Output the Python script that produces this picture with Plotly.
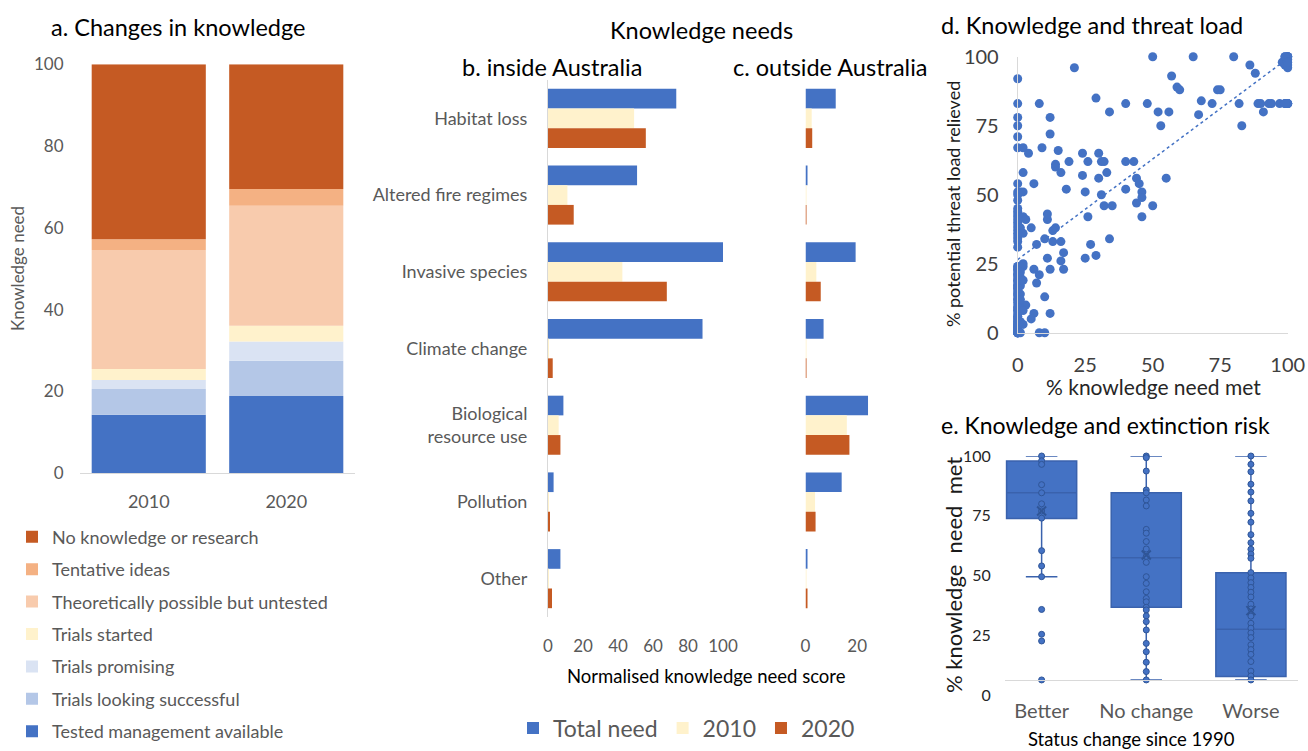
import numpy as np
import plotly.graph_objects as go

W, H = 1308, 751
def px(x): return x / W
def py(y): return 1 - y / H

FONT = "Lato"
GRAY = "#595959"
CLEAR = "rgba(0,0,0,0)"

# ---------------- Panel a: changes in knowledge ----------------
years = ["2010", "2020"]
stages = ["Tested management available", "Trials looking successful", "Trials promising",
          "Trials started", "Theoretically possible but untested", "Tentative ideas",
          "No knowledge or research"]
stage_2010 = [14.3, 6.3, 2.2, 2.7, 29.1, 2.6, 42.8]
stage_2020 = [18.9, 8.6, 4.7, 3.9, 29.3, 4.1, 30.5]
stage_colors = ["#4472C4", "#B4C7E7", "#DAE3F3", "#FFF2CC", "#F8CBAD", "#F4B183", "#C55A23"]

# ---------------- Panels b/c: knowledge needs ----------------
threats = ["Habitat loss", "Altered fire regimes", "Invasive species", "Climate change",
           "Biological<br>resource use", "Pollution", "Other"]
inside_total = [73.3, 50.9, 100, 88.3, 8.8, 3.2, 7.1]
inside_2010 = [49.2, 11.1, 42.5, 0.5, 6.1, 0.3, 0.2]
inside_2020 = [55.9, 14.7, 67.9, 2.7, 7.1, 1.1, 2.3]
outside_total = [11.7, 0.5, 19.4, 7.0, 24.2, 14.0, 0.6]
outside_2010 = [2.4, 0.1, 4.2, 0.1, 16.0, 3.7, 0.2]
outside_2020 = [2.6, 0.1, 5.9, 0.1, 17.0, 3.9, 0.4]
need_names = ["Total need", "2010", "2020"]
need_colors = ["#4472C4", "#FFF2CC", "#C55A23"]

# ---------------- Panel d: knowledge and threat load ----------------
met_pts = [50, 65, 80, 99, 100, 100, 98, 99, 100, 21, 0, 86, 88, 57, 59, 60, 74, 75,
           0, 8, 29, 34, 40, 48, 52, 53, 56, 68, 67, 72, 82, 83, 89, 90, 93, 94, 97, 99, 100, 91,
           0, 0, 0, 0, 2, 4, 12, 12, 9, 15, 14, 14, 16, 2, 6, 0, 1, 0, 18, 19,
           24, 26, 24, 25, 26, 30, 31, 32, 30, 33, 31, 32, 35, 34, 27, 29, 25,
           40, 43, 40, 44, 45, 46, 46, 44, 46, 50, 55, 0, 0, 2,
           0, 0, 0, 0, 0, 0, 0, 0, 0,
           2, 3, 1, 2, 5, 7, 10, 11, 11, 13, 14, 13, 16, 17, 16, 17, 11, 12, 6, 8, 7, 10, 3, 12, 6, 5, 8, 10,
           0, 0, 0, 0, 0, 0, 0, 0, 0, 0, 0, 0, 0, 0, 2, 1, 1, 1, 1,
           # densely overlapping points in the x = 0 column and the 100 clusters
           0, 0, 0, 0, 0, 0, 0, 0, 0, 0, 0, 0, 0, 0, 0, 0, 0, 0, 0, 0,
           0, 0, 0, 0, 0, 0, 0, 0, 0, 0, 0, 0, 0, 0, 0, 0, 0, 0, 0, 0,
           1, 1, 1, 1, 2, 2, 2, 2,
           100, 100, 100, 100, 100, 100, 99, 99, 100, 100]
relieved_pts = [100, 100, 100, 100, 100, 99, 98, 97, 96, 96, 92, 97, 94, 93, 89, 88, 88, 88,
                83, 83, 85, 80, 83, 83, 80, 75, 80, 84, 79, 83, 83, 75, 83, 83, 83, 83, 83, 83, 83, 80,
                78, 75, 71, 67, 67, 65, 78, 72, 67, 66, 61, 60, 58, 58, 54, 54, 51, 51, 52, 62,
                65, 62, 57, 51, 42, 65, 62, 62, 56, 58, 50, 46, 46, 34, 32, 28, 27,
                62, 62, 52, 56, 54, 51, 49, 47, 42, 46, 56, 48, 50, 51,
                44, 43, 42, 40, 38, 37, 35, 33, 31,
                42, 41, 38, 36, 38, 32, 34, 41, 43, 37, 38, 33, 33, 29, 26, 23, 27, 23, 23, 21, 18, 13, 10, 7, 7, 5, 0, 0,
                0, 2, 3, 5, 7, 9, 12, 14, 16, 17, 19, 21, 23, 24, 24, 20, 17, 14, 9,
                0, 0, 0, 1, 1, 2, 3, 4, 4, 6, 8, 10, 11, 13, 15, 17, 18, 20, 22, 24,
                0, 0, 1, 2, 3, 5, 6, 8, 9, 12, 14, 16, 19, 21, 23, 34, 36, 39, 41, 45,
                0, 4, 12, 22, 3, 8, 19, 25,
                100, 100, 100, 83, 83, 83, 83, 100, 97, 98]

# ---------------- Panel e: knowledge and extinction risk ----------------
status = ["Better", "No change", "Worse"]
better_pts = [100, 98, 96.5, 88, 84.6, 80, 77, 74, 60.4, 54, 49.5, 35.8, 25.4, 22.6, 6.3]
nochange_pts = [100, 99.3, 93.7, 85.8, 84.6, 81.6, 79.1, 69.3, 67.7, 64.2, 61.1, 58, 55.5, 49.5,
                46.7, 43.2, 40.4, 39, 36.7, 35.6, 33.1, 30.7, 27.2, 21.6, 18.1, 13.7, 9.8, 6.3]
worse_pts = [100, 96.5, 93.4, 88.2, 84.9, 81.2, 76, 72.3, 67.1, 63.7, 61, 59, 57.2, 51.2, 49, 47,
             45, 43, 41, 38, 36, 33, 30, 28, 26, 24, 21, 19, 17, 14, 10, 8, 6.3]
box_q1 = [73.9, 36.7, 7.7]
box_median = [84.6, 57.4, 27.5]
box_q3 = [97.9, 84.6, 51.2]
box_low = [49.5, 6.3, 6.3]
box_high = [100, 100, 100]
box_mean = [77, 58.6, 35.3]

fig = go.Figure()

# Panel a stacked bars (manual stacking through base, one offset group)
cum10 = np.concatenate([[0], np.cumsum(stage_2010)[:-1]])
cum20 = np.concatenate([[0], np.cumsum(stage_2020)[:-1]])
for i, name in enumerate(stages):
    fig.add_trace(go.Bar(
        x=years, y=[stage_2010[i], stage_2020[i]], base=[cum10[i], cum20[i]],
        name=name, marker=dict(color=stage_colors[i], line=dict(width=0)),
        offsetgroup="a", width=0.83, xaxis="x", yaxis="y",
        legend="legend", legendgroup=name, legendrank=100 - i, hoverinfo="skip"))

# Panels b and c grouped horizontal bars
for vals, nm, col in zip([inside_total, inside_2010, inside_2020], need_names, need_colors):
    fig.add_trace(go.Bar(y=threats, x=vals, orientation="h", name=nm,
                         marker=dict(color=col, line=dict(width=0)),
                         xaxis="x2", yaxis="y2", legend="legend2"))
for vals, nm, col in zip([outside_total, outside_2010, outside_2020], need_names, need_colors):
    fig.add_trace(go.Bar(y=threats, x=vals, orientation="h", name=nm, showlegend=False,
                         marker=dict(color=col, line=dict(width=0)),
                         xaxis="x3", yaxis="y3"))

# Panel d scatter + linear trend
fig.add_trace(go.Scatter(x=met_pts, y=relieved_pts, mode="markers",
                         marker=dict(color="#4472C4", size=9), cliponaxis=False,
                         showlegend=False, xaxis="x4", yaxis="y4"))
slope, intercept = np.polyfit(met_pts, relieved_pts, 1)
trend_x = np.array([0, 100])
fig.add_trace(go.Scatter(x=trend_x, y=intercept + slope * trend_x, mode="lines",
                         line=dict(color="#4472C4", width=1.5, dash="dot"),
                         showlegend=False, xaxis="x4", yaxis="y4"))

# Panel e box plot
fig.add_trace(go.Box(x=status, q1=box_q1, median=box_median, q3=box_q3,
                     lowerfence=box_low, upperfence=box_high, boxpoints=False,
                     fillcolor="#4472C4", line=dict(color="#3A62AD", width=1.5),
                     width=0.67, whiskerwidth=0.45, showlegend=False,
                     xaxis="x5", yaxis="y5"))
pts_x, pts_y = [], []
for cat, pts in zip(status, [better_pts, nochange_pts, worse_pts]):
    pts_x += [cat] * len(pts)
    pts_y += pts
fig.add_trace(go.Scatter(x=pts_x, y=pts_y, mode="markers", cliponaxis=False,
                         marker=dict(color="#4472C4", size=6, line=dict(color="#2F5597", width=1)),
                         showlegend=False, xaxis="x5", yaxis="y5"))
fig.add_trace(go.Scatter(x=status, y=box_mean, mode="markers",
                         marker=dict(symbol="x-thin", size=9, line=dict(color="#2F5597", width=2)),
                         showlegend=False, xaxis="x5", yaxis="y5"))

tick_font = dict(family=FONT, size=17, color=GRAY)
common = dict(showgrid=False, zeroline=False, ticks="outside", tickcolor=CLEAR, fixedrange=True)

annotations = [
    dict(text="a. Changes in knowledge", x=px(178.5), y=py(26.5), size=23.5),
    dict(text="Knowledge needs", x=px(701.7), y=py(30), size=23.5),
    dict(text="b. inside Australia", x=px(551.7), y=py(66.7), size=23.5),
    dict(text="c. outside Australia", x=px(830), y=py(66.7), size=23.5),
    dict(text="d. Knowledge and threat load", x=px(1091.7), y=py(25), size=23.5),
    dict(text="e. Knowledge and extinction risk", x=px(1105.8), y=py(425), size=23),
    dict(text="Normalised knowledge need score", x=px(706), y=py(676), size=18.5),
    dict(text="% knowledge need met", x=px(1153), y=py(386), size=21, color="#262626"),
    dict(text="Status change since 1990", x=px(1131), y=py(738.5), size=18.5),
    dict(text="Knowledge need", x=px(18), y=py(269), size=17, color=GRAY, angle=-90),
    dict(text="% potential threat load relieved", x=px(953), y=py(204), size=18, color="#1a1a1a", angle=-90),
    dict(text="% knowledge  need  met", x=px(953), y=py(575), size=22, color="#1a1a1a", angle=-90),
]
ann_list = []
for a in annotations:
    ann_list.append(dict(text=a["text"], x=a["x"], y=a["y"], xref="paper", yref="paper",
                         xanchor="center", yanchor="middle", showarrow=False,
                         textangle=a.get("angle", 0),
                         font=dict(family=FONT, size=a["size"], color=a.get("color", "#000000"))))

fig.update_layout(
    width=W, height=H, margin=dict(l=0, r=0, t=0, b=0, autoexpand=False),
    paper_bgcolor="white", plot_bgcolor="white",
    font=dict(family=FONT, color=GRAY),
    barmode="group", bargap=0.23, bargroupgap=0,
    annotations=ann_list,
    xaxis=dict(domain=[px(80), px(355)], range=[-0.5, 1.5], type="category", anchor="y",
               showline=True, linecolor="#D9D9D9", ticklen=12,
               tickfont=dict(family=FONT, size=18, color=GRAY), **common),
    yaxis=dict(domain=[py(473.3), py(64.3)], range=[0, 100], dtick=20, anchor="x",
               ticklen=12, tickfont=tick_font, **common),
    xaxis2=dict(domain=[px(548), px(723)], range=[0, 100], dtick=20, anchor="y2",
                ticklen=14, tickfont=tick_font, **common),
    yaxis2=dict(domain=[py(617), py(80)], autorange="reversed", type="category", anchor="x2",
                showline=True, linecolor="#D9D9D9", ticklen=16,
                tickfont=dict(family=FONT, size=18, color=GRAY), **common),
    xaxis3=dict(domain=[px(805.5), px(883)], range=[0, 30], tickvals=[0, 20], anchor="y3",
                ticklen=14, tickfont=tick_font, **common),
    yaxis3=dict(domain=[py(617), py(80)], autorange="reversed", type="category", anchor="x3",
                showticklabels=False, showgrid=False, zeroline=False, ticks="", fixedrange=True),
    xaxis4=dict(domain=[px(1017.7), px(1287.7)], range=[0, 100], dtick=25, anchor="y4",
                showline=True, linecolor="#D9D9D9", ticklen=14,
                tickfont=dict(family=FONT, size=20, color="#404040"), **common),
    yaxis4=dict(domain=[py(332.7), py(56.7)], range=[0, 100], dtick=25, anchor="x4",
                showline=True, linecolor="#D9D9D9", ticklen=14,
                tickfont=dict(family=FONT, size=20, color="#404040"), **common),
    xaxis5=dict(domain=[px(1005), px(1298)], range=[-0.35, 2.45], type="category",
                anchor="free", position=py(680), showline=True, linecolor="#D9D9D9",
                ticklen=13, tickfont=dict(family=FONT, size=20, color=GRAY), **common),
    yaxis5=dict(domain=[py(695), py(456)], range=[0, 100], dtick=25, anchor="x5",
                ticklen=10, tickfont=dict(family=FONT, size=16, color="#262626"), **common),
    legend=dict(x=px(12), y=py(518.6), xanchor="left", yanchor="top",
                traceorder="grouped", tracegroupgap=6,
                font=dict(family=FONT, size=18, color=GRAY), bgcolor=CLEAR),
    legend2=dict(x=px(513), y=py(728), xanchor="left", yanchor="middle", orientation="h",
                 font=dict(family=FONT, size=23, color=GRAY), bgcolor=CLEAR),
)

fig.write_html("out.html")
